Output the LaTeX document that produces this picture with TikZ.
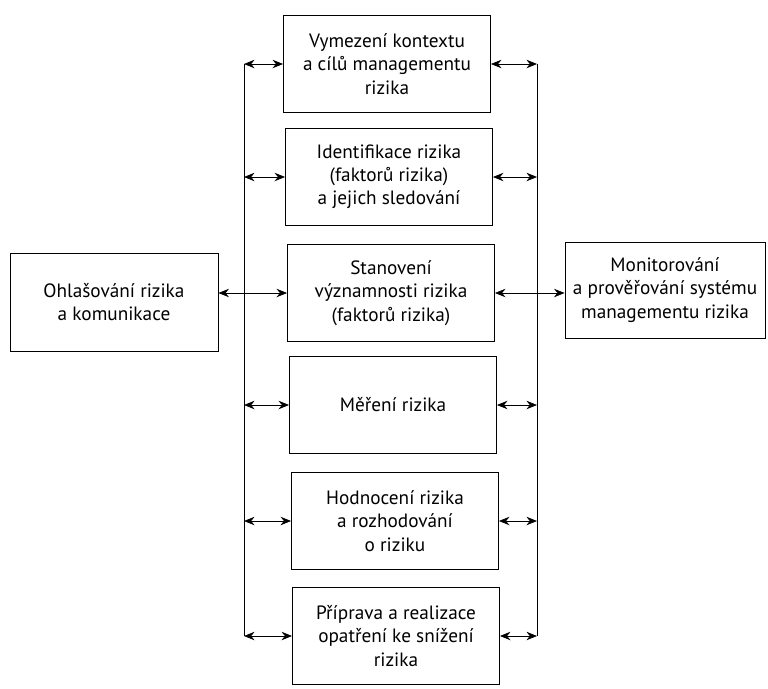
\documentclass[tikz,border=0pt]{standalone}
\usepackage{fontspec}
\setmainfont{PT Sans}
\usepackage{tikz}
\usetikzlibrary{arrows.meta,positioning,calc}

\begin{document}
\begin{tikzpicture}[
    krok/.style={rectangle, draw, line width=0.6pt, minimum width=5.175cm, minimum height=2.425cm, align=center, font=\fontsize{13.7}{16.5}\selectfont},
    bocni/.style={krok, minimum width=5.1cm},
    vazba/.style={{Stealth[length=7.5pt,width=6pt]}-{Stealth[length=7.5pt,width=6pt]}, line width=0.5pt}
]
    \useasboundingbox (0,0) rectangle (19.2,-17.2);

    % Process steps
    \node[krok] (k1) at (9.675,-1.6) {Vymezení kontextu\\a cílů managementu\\rizika};
    \node[krok] (k2) at (9.725,-4.425) {Identifikace rizika\\(faktorů rizika)\\a jejich sledování};
    \node[krok] (k3) at (9.775,-7.325) {Stanovení\\významnosti rizika\\(faktorů rizika)};
    \node[krok] (k4) at (9.825,-10.125) {Měření rizika};
    \node[krok] (k5) at (9.875,-13.025) {Hodnocení rizika\\a rozhodování\\o riziku};
    \node[krok] (k6) at (9.9,-15.9) {Příprava a realizace\\opatření ke snížení\\rizika};

    % Side boxes
    \node[bocni, minimum width=5.2cm, minimum height=2.45cm] (ohl) at (2.85,-7.55) {Ohlašování rizika\\a komunikace};
    \node[bocni, minimum width=5.0cm, minimum height=2.4cm] (mon) at (16.625,-7.25) {Monitorování\\a prověřování systému\\managementu rizika};

    % Vertical buses
    \coordinate (lev) at (6.1,0);
    \coordinate (prav) at (13.425,0);
    \draw[line width=0.5pt] (k1.west -| lev) -- (k6.west -| lev);
    \draw[line width=0.5pt] (k1.east -| prav) -- (k6.east -| prav);

    % Links to the left bus
    \foreach \k in {k1,k2,k4,k5,k6}
        \draw[vazba] (\k.west -| lev) -- (\k.west);
    % Links to the right bus
    \foreach \k in {k1,k2,k4,k5,k6}
        \draw[vazba] (\k.east) -- (\k.east -| prav);

    \draw[vazba] (ohl.east |- k3.west) -- (k3.west);
    \draw[vazba] (k3.east) -- (mon.west |- k3.east);
\end{tikzpicture}
\end{document}
